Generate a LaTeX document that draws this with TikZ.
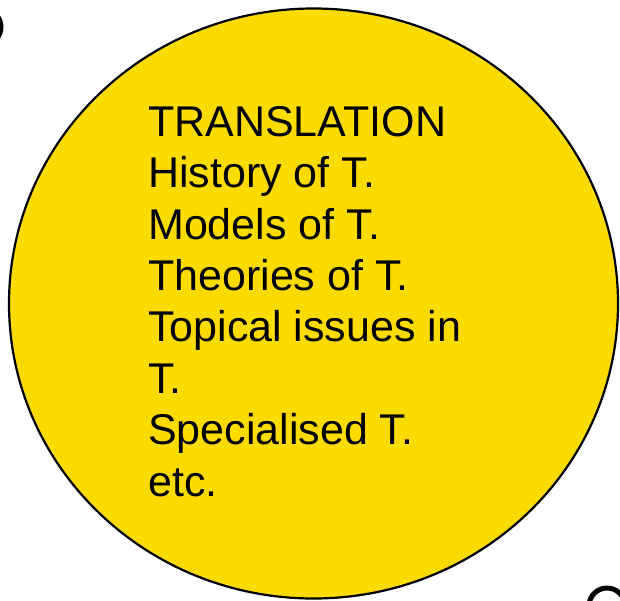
\documentclass[tikz,border=0pt]{standalone}
\usepackage{fontspec}
\setmainfont{Liberation Sans}
\begin{document}
\begin{tikzpicture}[x=1pt,y=-1pt,
  topic/.style={draw=black, line width=2.2pt, fill=topicyellow},
  ring/.style={draw=black, line width=5pt},
  topictext/.style={anchor=base west, align=left, inner sep=0pt,
    font=\fontsize{43}{51.4}\selectfont}]
\definecolor{topicyellow}{HTML}{FCDC00}
\useasboundingbox (0,0) rectangle (620,600);
% partial rings at the corners
\draw[ring] (-17,27) circle (18);
\draw[ring] (607,606) circle (18);
% main topic circle
\draw[topic] (313.5,303.5) ellipse [x radius=304.5, y radius=295];
% the node's base anchor sits on the baseline of its last line
\node[topictext] (topics) at (148,496) {TRANSLATION\\History of T.\\Models of T.\\Theories of T.\\Topical issues in\\T.\\Specialised T.\\etc.};
\end{tikzpicture}
\end{document}
